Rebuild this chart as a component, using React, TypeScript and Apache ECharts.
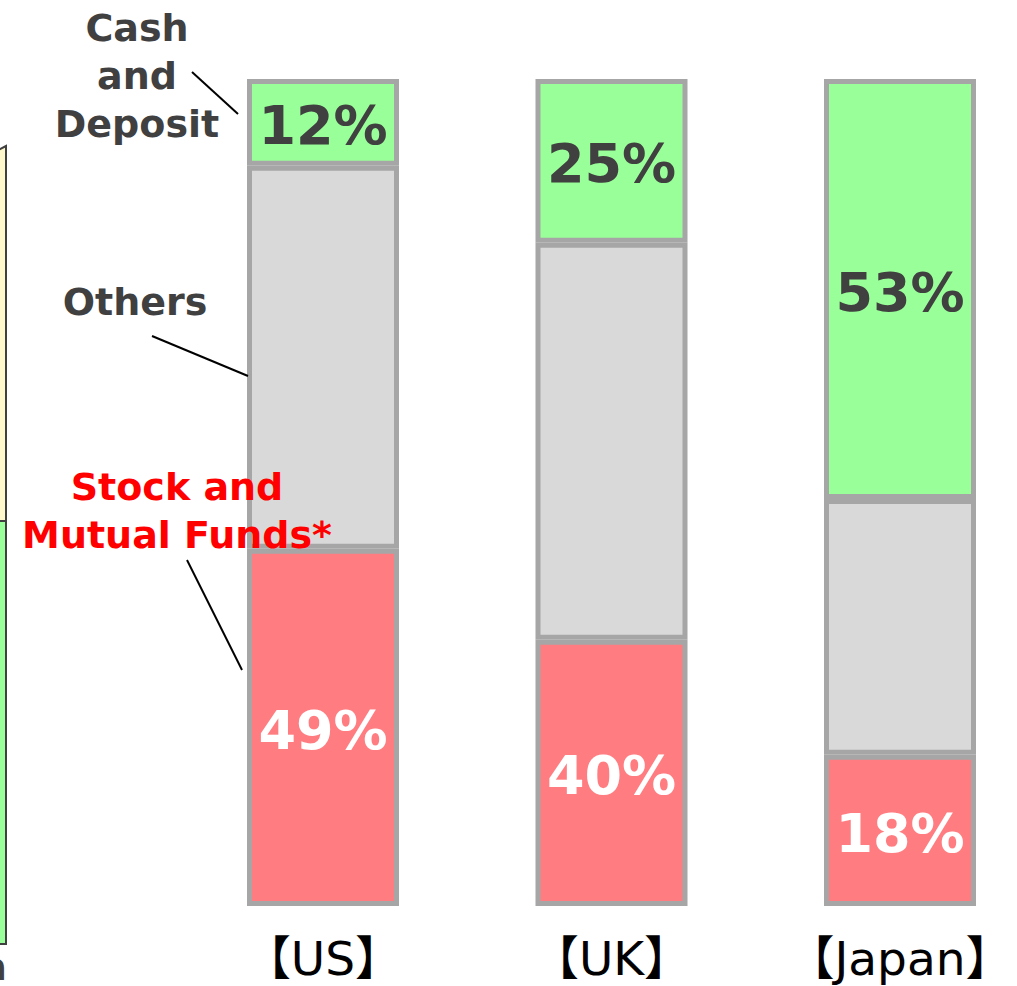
import React, { useEffect, useRef } from "react";
import * as echarts from "echarts";

// Categories (x axis tick labels)
const categories = ["【US】", "【UK】", "【Japan】"];
// Segment heights (share of each bar, %)
const stockHeights = [43.2, 32.2, 18.3];
const othersHeights = [46.3, 48.0, 30.9];
const cashHeights = [10.5, 19.8, 50.8];
// Printed labels
const stockLabels = ["49%", "40%", "18%"];
const cashLabels = ["12%", "25%", "53%"];

const FONT = "'DejaVu Sans', Verdana, sans-serif";

export default function App() {
  const ref = useRef<HTMLDivElement>(null);

  useEffect(() => {
    if (!ref.current) return;
    const chart = echarts.init(ref.current, undefined, { renderer: "svg" });
    const border = { borderColor: "#a6a6a6", borderWidth: 5 };
    const labelBase = {
      show: true,
      position: "inside",
      fontFamily: FONT,
      fontWeight: "bold",
      fontSize: 54,
      offset: [0, 3],
    };
    chart.setOption({
      animation: false,
      backgroundColor: "#ffffff",
      grid: { left: 178.75, right: 55.75, top: 79, height: 827 },
      xAxis: {
        type: "category",
        data: categories,
        axisLine: { show: false },
        axisTick: { show: false },
        axisLabel: {
          color: "#000000",
          fontSize: 47,
          lineHeight: 46,
          fontFamily: "'DejaVu Sans', 'Noto Sans CJK JP', sans-serif",
          margin: 29,
          interval: 0,
        },
      },
      yAxis: { type: "value", min: 0, max: 100, show: false },
      series: [
        {
          name: "Stock and Mutual Funds",
          type: "bar",
          stack: "total",
          barWidth: 152,
          data: stockHeights,
          itemStyle: { color: "#ff7c80", ...border },
          label: {
            ...labelBase,
            color: "#ffffff",
            formatter: (p: any) => stockLabels[p.dataIndex],
          },
        },
        {
          name: "Others",
          type: "bar",
          stack: "total",
          barWidth: 152,
          data: othersHeights,
          itemStyle: { color: "#d9d9d9", ...border },
        },
        {
          name: "Cash and Deposit",
          type: "bar",
          stack: "total",
          barWidth: 152,
          data: cashHeights,
          itemStyle: { color: "#99ff99", ...border },
          label: {
            ...labelBase,
            color: "#404040",
            formatter: (p: any) => cashLabels[p.dataIndex],
          },
        },
      ],
      graphic: [
        // partial shapes cut off at the left edge
        {
          type: "polygon",
          z: 100,
          shape: { points: [[-20, 160], [6, 146], [6, 521], [-20, 521]] },
          style: { fill: "#fff8cc", stroke: "#404040", lineWidth: 2 },
        },
        {
          type: "rect",
          z: 100,
          shape: { x: -20, y: 521, width: 26, height: 423 },
          style: { fill: "#99ff99", stroke: "#404040", lineWidth: 2 },
        },
        {
          type: "text",
          z: 100,
          x: 7,
          y: 986,
          style: {
            text: "a",
            fill: "#404040",
            font: `bold 38px ${FONT}`,
            align: "right",
            verticalAlign: "bottom",
          },
        },
        // annotations
        {
          type: "text",
          z: 100,
          x: 137,
          y: 76,
          style: {
            text: "Cash\nand\nDeposit",
            fill: "#404040",
            font: `bold 38px ${FONT}`,
            align: "center",
            verticalAlign: "middle",
            lineHeight: 48,
          },
        },
        {
          type: "text",
          z: 100,
          x: 135,
          y: 302,
          style: {
            text: "Others",
            fill: "#404040",
            font: `bold 38px ${FONT}`,
            align: "center",
            verticalAlign: "middle",
          },
        },
        {
          type: "text",
          z: 100,
          x: 177,
          y: 511,
          style: {
            text: "Stock and\nMutual Funds*",
            fill: "#ff0000",
            font: `bold 38px ${FONT}`,
            align: "center",
            verticalAlign: "middle",
            lineHeight: 48,
          },
        },
        {
          type: "line",
          z: 100,
          shape: { x1: 192, y1: 72, x2: 238, y2: 114 },
          style: { stroke: "#000000", lineWidth: 2 },
        },
        {
          type: "line",
          z: 100,
          shape: { x1: 152, y1: 336, x2: 248, y2: 376 },
          style: { stroke: "#000000", lineWidth: 2 },
        },
        {
          type: "line",
          z: 100,
          shape: { x1: 187, y1: 560, x2: 242, y2: 670 },
          style: { stroke: "#000000", lineWidth: 2 },
        },
      ],
    });
    return () => chart.dispose();
  }, []);

  return (
    <div
      style={{
        position: "absolute",
        left: 0,
        top: 0,
        width: 1017,
        height: 986,
        overflow: "hidden",
        background: "#ffffff",
      }}
    >
      <div ref={ref} style={{ width: 1100, height: 986 }} />
    </div>
  );
}
